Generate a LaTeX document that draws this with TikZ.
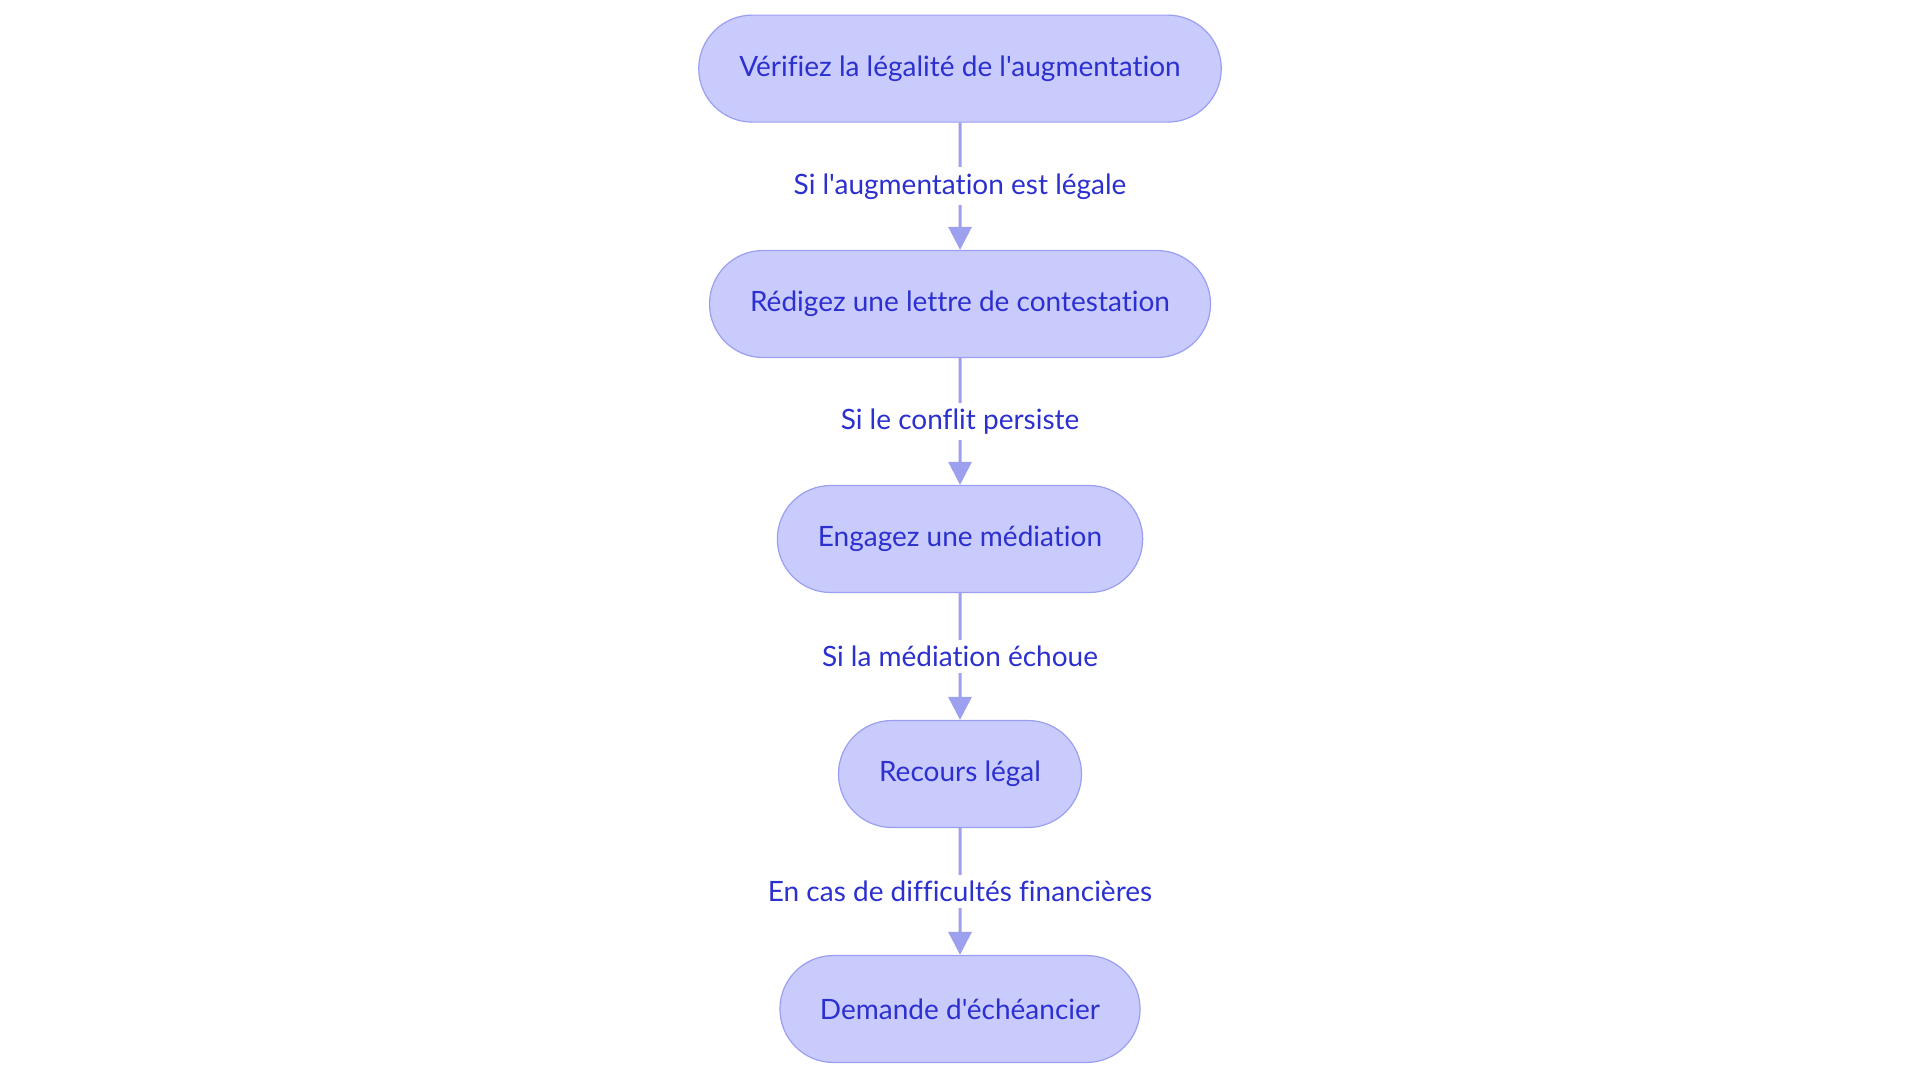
\documentclass[tikz,border=0pt]{standalone}
\usepackage{fontspec}
\newfontfamily\flowfont{Lato}[Ligatures=NoCommon]
\usetikzlibrary{arrows.meta, shapes.misc}
\definecolor{stagefill}{HTML}{C9CBFC}
\definecolor{stageline}{HTML}{9B9FF2}
\definecolor{stagetext}{HTML}{2C30CF}
\definecolor{flowline}{HTML}{9DA0EE}
\tikzset{
  >=Latex,
  font=\flowfont\fontsize{14}{16}\selectfont,
  stage/.style={
    rounded rectangle, draw=stageline, fill=stagefill, line width=0.6pt,
    text=stagetext, minimum height=53.5pt, inner xsep=19.5pt
  },
  flow/.style={-{Triangle[length=11.5pt,width=11.5pt]}, line width=1.5pt, draw=flowline},
  cond/.style={fill=white, text=stagetext, inner xsep=2pt, inner ysep=3pt}
}
\begin{document}
\begin{tikzpicture}
  \useasboundingbox (0,0) rectangle (960pt,-541.5pt);
  \node[stage] (verif) at (480pt,-34.3pt) {Vérifiez la légalité de l'augmentation};
  \node[stage] (lettre) at (480pt,-152pt) {Rédigez une lettre de contestation};
  \node[stage] (media) at (480pt,-269.5pt) {Engagez une médiation};
  \node[stage] (recours) at (480pt,-387pt) {Recours légal};
  \node[stage] (echeance) at (480pt,-504.5pt) {Demande d'échéancier};
  \draw[flow] (verif) -- node[cond] {Si l'augmentation est légale} (lettre);
  \draw[flow] (lettre) -- node[cond] {Si le conflit persiste} (media);
  \draw[flow] (media) -- node[cond] {Si la médiation échoue} (recours);
  \draw[flow] (recours) -- node[cond] {En cas de difficultés financières} (echeance);
\end{tikzpicture}
\end{document}
